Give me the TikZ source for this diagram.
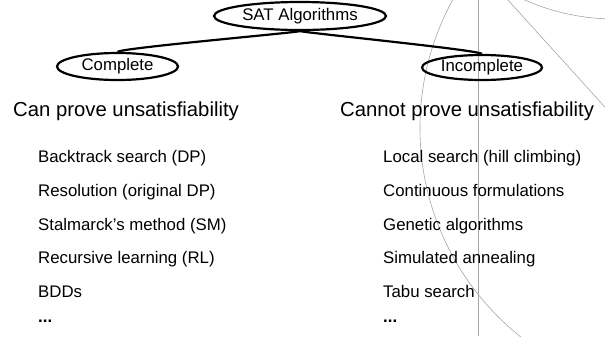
\documentclass[tikz,border=0pt]{standalone}
\usepackage{fontspec}
\setmainfont{Liberation Sans}
\usetikzlibrary{shapes.geometric}
\tikzset{
  deco/.style={draw=black!35, line width=0.6bp},
  algbox/.style={ellipse, draw, line width=2.2bp, inner sep=0pt,
    font=\fontsize{16.8bp}{20bp}\selectfont},
  link/.style={line width=2.2bp},
  heading/.style={anchor=base west, inner sep=0pt,
    font=\fontsize{20.3bp}{24bp}\selectfont},
  item/.style={anchor=base west, inner sep=0pt,
    font=\fontsize{16.8bp}{20bp}\selectfont},
}
\begin{document}
\begin{tikzpicture}[x=1bp, y=-1bp]
\useasboundingbox (0,0) rectangle (605,336);

% light background ornament on the right
\begin{scope}
  \clip (0,0) rectangle (605,336);
  \draw[deco] (478,0) -- (478,336);
  \draw[deco] (687,128) circle[radius=267bp];
  \draw[deco] (478,-33) -- (700,212);
  \draw[deco] (615,-204) circle[radius=223bp];
\end{scope}

% tree of algorithm classes
\node[algbox, minimum width=172bp, minimum height=28bp] (sat) at (300,16) {SAT Algorithms};
\node[algbox, minimum width=121bp, minimum height=27bp] (complete) at (117.5,66.5) {Complete};
\node[algbox, minimum width=120bp, minimum height=25bp] (incomplete) at (482,67.5) {Incomplete};
\draw[link] (sat.south) .. controls +(-8,2) and +(4,-4) .. (complete.north);
\draw[link] (sat.south) .. controls +(8,2) and +(-4,-4) .. (incomplete.north);

% column headings
\node[heading] (hl) at (13,116) {Can prove unsatisfiability};
\node[heading] (hr) at (340,116) {Cannot prove unsatisfiability};

% complete methods
\node[item] (l1) at (38,162) {Backtrack search (DP)};
\node[item] (l2) at (38,196) {Resolution (original DP)};
\node[item] (l3) at (38,230) {Stalmarck’s method (SM)};
\node[item] (l4) at (38,263.5) {Recursive learning (RL)};
\node[item] (l5) at (38,297.5) {BDDs};
\node[item] (l6) at (38,322) {\textbf{...}};

% incomplete methods
\node[item] (r1) at (383,162) {Local search (hill climbing)};
\node[item] (r2) at (383,196) {Continuous formulations};
\node[item] (r3) at (383,230) {Genetic algorithms};
\node[item] (r4) at (383,263.5) {Simulated annealing};
\node[item] (r5) at (383,297.5) {Tabu search};
\node[item] (r6) at (383,322) {\textbf{...}};
\end{tikzpicture}
\end{document}
